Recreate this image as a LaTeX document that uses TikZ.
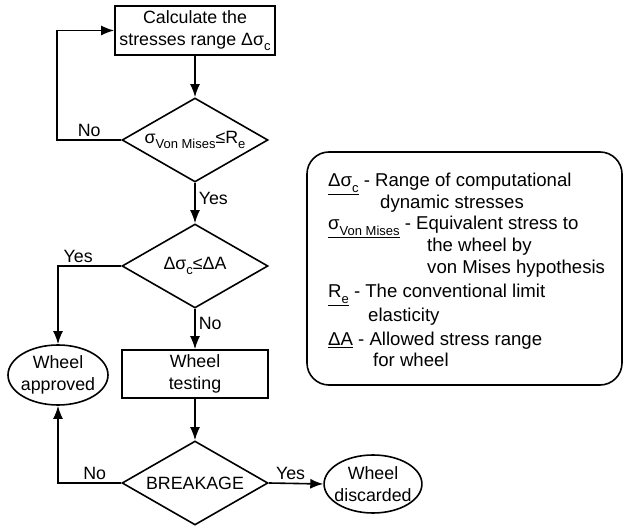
\documentclass[tikz,border=0pt]{standalone}
\usepackage{fontspec}
\setmainfont{Liberation Sans}
\usetikzlibrary{shapes.geometric,arrows.meta}
\newcommand{\lowsub}[1]{\raisebox{-0.3em}{\fontsize{13}{13}\selectfont #1}}

\begin{document}
\begin{tikzpicture}[x=1pt,y=-1pt,
  every node/.style={font=\fontsize{17.8}{22}\selectfont},
  block/.style={draw,line width=1.6pt,rectangle,align=center,inner sep=0pt},
  decision/.style={draw,line width=1.6pt,diamond,aspect=1.74,inner sep=0pt,minimum width=146pt,minimum height=84pt},
  terminal/.style={draw,line width=1.6pt,ellipse,align=center,inner sep=-4pt},
  flow/.style={line width=1.6pt,-{Latex[length=13pt,width=10pt]}},
  lbl/.style={inner sep=3pt},
  key/.style={anchor=base west,inner sep=0pt,font=\fontsize{18.6}{22}\selectfont}]
\useasboundingbox (0,0) rectangle (627,526);

% flow chart
\node[block,minimum width=160pt,minimum height=49pt] (calc) at (195,30.5) {Calculate the\\stresses range Δσ\lowsub{c}};
\node[decision] (check) at (195,140) {σ\lowsub{Von Mises}≤R\lowsub{e}};
\node[decision] (range) at (195,266) {Δσ\lowsub{c}≤ΔA};
\node[block,minimum width=146pt,minimum height=48pt] (test) at (195,374) {Wheel\\testing};
\node[decision] (brk) at (195,483) {BREAKAGE};
\node[terminal,minimum width=100pt,minimum height=60pt] (ok) at (58,375) {Wheel\\approved};
\node[terminal,minimum width=96pt,minimum height=58pt] (bad) at (373,484) {Wheel\\discarded};

\draw[flow] (calc) -- (check);
\draw[flow] (check.west) -- node[lbl,above]{No} ++(-64,0) |- (calc.west);
\draw[flow] (check.south) -- node[lbl,right,pos=0.4]{Yes} (range.north);
\draw[flow] (range.west) -| node[lbl,above,pos=0.34]{Yes} (ok.north);
\draw[flow] (range.south) -- node[lbl,right,pos=0.37]{No} (test.north);
\draw[flow] (test) -- (brk);
\draw[flow] (brk.west) -| node[lbl,above,pos=0.21]{No} (ok.south);
\draw[flow] (brk.east) -- node[lbl,above,pos=0.4]{Yes} (bad.west);

% legend
\node[draw,line width=1.6pt,rounded corners=22pt,minimum width=315pt,minimum height=233pt] (legend) at (464.5,268.5) {};
\node[key] (k1) at (328,187) {\underline{Δσ\lowsub{c}} - Range of computational};
\node[key] (k2) at (380,209) {dynamic stresses};
\node[key] (k3) at (328,230) {\underline{σ\lowsub{Von Mises}} - Equivalent stress to};
\node[key] (k4) at (427,252) {the wheel by};
\node[key] (k5) at (427,274) {von Mises hypothesis};
\node[key] (k6) at (328,298) {\underline{R\lowsub{e}} - The conventional limit};
\node[key] (k7) at (368,322) {elasticity};
\node[key] (k8) at (328,346) {\underline{ΔA} - Allowed stress range};
\node[key] (k9) at (373,367) {for wheel};
\end{tikzpicture}
\end{document}
